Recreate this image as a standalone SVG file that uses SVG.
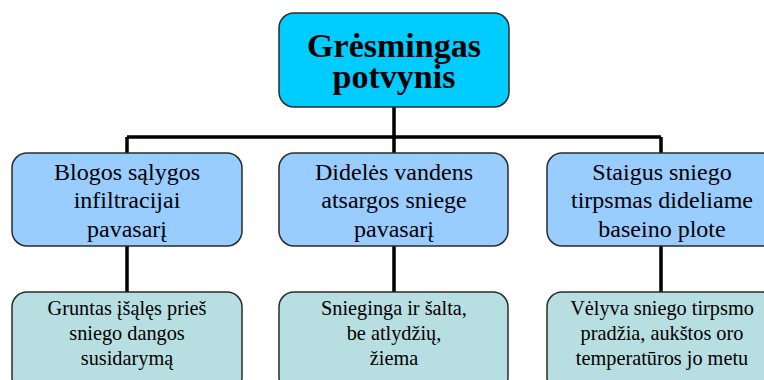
<svg xmlns="http://www.w3.org/2000/svg" width="764" height="380" viewBox="0 0 764 380">
<style>
.box{stroke:#2b2b2b;stroke-width:1.5}
.top{fill:#00CCFF}
.mid{fill:#99CCFF}
.bot{fill:#B7DEE1}
text{fill:#000;text-anchor:middle}
.tt{font-size:34px;font-weight:bold}
.mt{font-size:24px}
.bt{font-size:20.3px}
.ln{stroke:#000;stroke-width:3.5;fill:none}
</style>
<rect width="764" height="380" fill="#fff"/>
<g id="connectors">
<path class="ln" d="M394 107V137M127 137H661M127 137V153M394 137V153M661 137V153"/>
<path class="ln" d="M127 246V292M394 246V292M661 246V292"/>
</g>
<g font-family="Liberation Serif, Times New Roman, DejaVu Serif, serif">
<g id="n-top">
<rect class="box top" x="279" y="13" width="230" height="94" rx="15"/>
<text class="tt" x="394" y="57">Grėsmingas</text>
<text class="tt" x="394" y="88">potvynis</text>
</g>
<g id="n-mid1">
<rect class="box mid" x="12" y="153" width="230" height="93" rx="15"/>
<text class="mt" x="127" y="180">Blogos sąlygos</text>
<text class="mt" x="127" y="208">infiltracijai</text>
<text class="mt" x="127" y="237">pavasarį</text>
</g>
<g id="n-mid2">
<rect class="box mid" x="279" y="153" width="229" height="93" rx="15"/>
<text class="mt" x="394" y="180">Didelės vandens</text>
<text class="mt" x="394" y="208">atsargos sniege</text>
<text class="mt" x="394" y="237">pavasarį</text>
</g>
<g id="n-mid3">
<rect class="box mid" x="547" y="153" width="230" height="93" rx="15"/>
<text class="mt" x="662" y="180">Staigus sniego</text>
<text class="mt" x="662" y="208">tirpsmas dideliame</text>
<text class="mt" x="662" y="237">baseino plote</text>
</g>
<g id="n-bot1">
<rect class="box bot" x="12" y="292" width="230" height="100" rx="15"/>
<text class="bt" x="127" y="315">Gruntas įšąlęs prieš</text>
<text class="bt" x="127" y="340">sniego dangos</text>
<text class="bt" x="127" y="365">susidarymą</text>
</g>
<g id="n-bot2">
<rect class="box bot" x="279" y="292" width="229" height="100" rx="15"/>
<text class="bt" x="394" y="315">Snieginga ir šalta,</text>
<text class="bt" x="394" y="340">be atlydžių,</text>
<text class="bt" x="394" y="365">žiema</text>
</g>
<g id="n-bot3">
<rect class="box bot" x="547" y="292" width="230" height="100" rx="15"/>
<text class="bt" x="662" y="315">Vėlyva sniego tirpsmo</text>
<text class="bt" x="662" y="340">pradžia, aukštos oro</text>
<text class="bt" x="662" y="365">temperatūros jo metu</text>
</g>
</g>
</svg>
